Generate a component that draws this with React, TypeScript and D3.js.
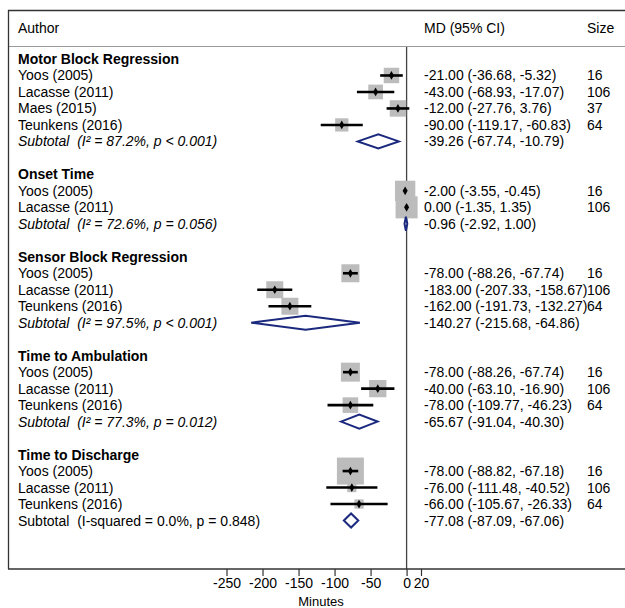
import { useRef, useEffect } from 'react';
import * as d3 from 'd3';

const W = 625;
const H = 608;
const FONT = 'Liberation Sans, Arial, sans-serif';
const BOX_COLOR = '#bcbcbc';
const DIAMOND_COLOR = '#1b2a7e';

const GROUPS = [
  'Motor Block Regression',
  'Onset Time',
  'Sensor Block Regression',
  'Time to Ambulation',
  'Time to Discharge',
];
const STUDY_GROUP = [0, 0, 0, 0, 1, 1, 2, 2, 2, 3, 3, 3, 4, 4, 4];
const STUDIES = [
  'Yoos (2005)', 'Lacasse (2011)', 'Maes (2015)', 'Teunkens (2016)',
  'Yoos (2005)', 'Lacasse (2011)',
  'Yoos (2005)', 'Lacasse (2011)', 'Teunkens (2016)',
  'Yoos (2005)', 'Lacasse (2011)', 'Teunkens (2016)',
  'Yoos (2005)', 'Lacasse (2011)', 'Teunkens (2016)',
];
const MD = [-21, -43, -12, -90, -2, 0, -78, -183, -162, -78, -40, -78, -78, -76, -66];
const LOWER = [-36.68, -68.93, -27.76, -119.17, -3.55, -1.35, -88.26, -207.33, -191.73, -88.26, -63.1, -109.77, -88.82, -111.48, -105.67];
const UPPER = [-5.32, -17.07, 3.76, -60.83, -0.45, 1.35, -67.74, -158.67, -132.27, -67.74, -16.9, -46.23, -67.18, -40.52, -26.33];
const SIZES = [16, 106, 37, 64, 16, 106, 16, 106, 64, 16, 106, 64, 16, 106, 64];
const WEIGHTS = [26.5, 24, 30, 19.5, 46, 54, 36, 32, 32, 40, 33, 27, 81, 9.5, 9.5];

const SUB_LABELS = [
  'Subtotal  (I² = 87.2%, p < 0.001)',
  'Subtotal  (I² = 72.6%, p = 0.056)',
  'Subtotal  (I² = 97.5%, p < 0.001)',
  'Subtotal  (I² = 77.3%, p = 0.012)',
  'Subtotal  (I-squared = 0.0%, p = 0.848)',
];
const SUB_MD = [-39.26, -0.96, -140.27, -65.67, -77.08];
const SUB_LO = [-67.74, -2.92, -215.68, -91.04, -87.09];
const SUB_HI = [-10.79, 1.0, -64.86, -40.3, -67.06];

const TICKS = [-250, -200, -150, -100, -50, 0, 20];

const fmt = (m, l, u) => `${m.toFixed(2)} (${l.toFixed(2)}, ${u.toFixed(2)})`;

function ForestPlot() {
  const svgRef = useRef(null);

  useEffect(() => {
    const svg = d3.select(svgRef.current);
    svg.selectAll('*').remove();

    // build row list: group title, studies, subtotal, blank
    const rows = [];
    GROUPS.forEach((g, gi) => {
      rows.push({ type: 'group', gi });
      STUDY_GROUP.forEach((sg, si) => {
        if (sg === gi) rows.push({ type: 'study', si });
      });
      rows.push({ type: 'sub', gi });
      if (gi < GROUPS.length - 1) rows.push({ type: 'blank' });
    });
    rows.forEach((r, i) => (r.idx = i));

    const x = d3.scaleLinear().domain([-250, 20]).range([226.5, 421]);
    const y = d3.scaleLinear().domain([0, rows.length - 1]).range([59, 520.5]);
    const box = d3.scaleSqrt().domain([0, 100]).range([0, 30]);

    const textX = 18;
    const mdX = 424;
    const sizeX = 587;
    const axisY = 569;

    const g = svg.append('g').attr('font-family', FONT).attr('font-size', 14).attr('fill', '#000');

    // frame
    g.append('line').attr('x1', 8).attr('x2', W).attr('y1', 10.5).attr('y2', 10.5)
      .attr('stroke', '#333').attr('stroke-width', 1.3);
    g.append('line').attr('x1', 8).attr('x2', W).attr('y1', 46.5).attr('y2', 46.5)
      .attr('stroke', '#9a9a9a').attr('stroke-width', 1);
    g.append('line').attr('x1', 8.5).attr('x2', 8.5).attr('y1', 10).attr('y2', axisY)
      .attr('stroke', '#333').attr('stroke-width', 1.3);

    // header
    const hdr = [
      { t: 'Author', x: textX },
      { t: 'MD (95% CI)', x: mdX },
      { t: 'Size', x: sizeX },
    ];
    g.selectAll('.hdr').data(hdr).join('text')
      .attr('x', d => d.x).attr('y', 28).attr('dominant-baseline', 'central')
      .text(d => d.t);

    // zero line
    g.append('line').attr('x1', x(0)).attr('x2', x(0)).attr('y1', 47).attr('y2', axisY)
      .attr('stroke', '#444').attr('stroke-width', 1.3);

    // group titles
    const groupRows = rows.filter(r => r.type === 'group');
    g.selectAll('.gt').data(groupRows).join('text')
      .attr('x', textX).attr('y', d => y(d.idx)).attr('dominant-baseline', 'central')
      .attr('font-weight', 'bold')
      .text(d => GROUPS[d.gi]);

    // studies
    const studyRows = rows.filter(r => r.type === 'study');
    g.selectAll('.st').data(studyRows).join('text')
      .attr('x', textX).attr('y', d => y(d.idx)).attr('dominant-baseline', 'central')
      .text(d => STUDIES[d.si]);
    g.selectAll('.md').data(studyRows).join('text')
      .attr('x', mdX).attr('y', d => y(d.idx)).attr('dominant-baseline', 'central')
      .text(d => fmt(MD[d.si], LOWER[d.si], UPPER[d.si]));
    g.selectAll('.sz').data(studyRows).join('text')
      .attr('x', sizeX).attr('y', d => y(d.idx)).attr('dominant-baseline', 'central')
      .text(d => SIZES[d.si]);

    // weight boxes
    g.selectAll('.box').data(studyRows).join('rect')
      .attr('x', d => x(MD[d.si]) - box(WEIGHTS[d.si]) / 2)
      .attr('y', d => y(d.idx) - box(WEIGHTS[d.si]) / 2)
      .attr('width', d => box(WEIGHTS[d.si]))
      .attr('height', d => box(WEIGHTS[d.si]))
      .attr('fill', BOX_COLOR);

    // CI lines
    g.selectAll('.ci').data(studyRows).join('line')
      .attr('x1', d => x(LOWER[d.si])).attr('x2', d => x(UPPER[d.si]))
      .attr('y1', d => y(d.idx)).attr('y2', d => y(d.idx))
      .attr('stroke', '#000').attr('stroke-width', 2.6);

    // point markers
    const pt = d3.symbol().type(d3.symbolDiamond).size(22);
    g.selectAll('.pt').data(studyRows).join('path')
      .attr('d', pt)
      .attr('transform', d => `translate(${x(MD[d.si])},${y(d.idx)})`)
      .attr('fill', '#000');

    // subtotals
    const subRows = rows.filter(r => r.type === 'sub');
    g.selectAll('.sl').data(subRows).join('text')
      .attr('x', textX).attr('y', d => y(d.idx)).attr('dominant-baseline', 'central')
      .style('white-space', 'pre')
      .attr('font-style', d => (SUB_LABELS[d.gi].includes('I²') ? 'italic' : 'normal'))
      .text(d => SUB_LABELS[d.gi]);
    g.selectAll('.smd').data(subRows).join('text')
      .attr('x', mdX).attr('y', d => y(d.idx)).attr('dominant-baseline', 'central')
      .text(d => fmt(SUB_MD[d.gi], SUB_LO[d.gi], SUB_HI[d.gi]));

    const dh = 7;
    g.selectAll('.dm').data(subRows).join('path')
      .attr('d', d => {
        const cy = y(d.idx);
        return `M${x(SUB_LO[d.gi])},${cy}L${x(SUB_MD[d.gi])},${cy - dh}L${x(SUB_HI[d.gi])},${cy}L${x(SUB_MD[d.gi])},${cy + dh}Z`;
      })
      .attr('fill', '#fff').attr('stroke', DIAMOND_COLOR).attr('stroke-width', 2)
      .attr('stroke-linejoin', 'miter');

    // bottom axis
    g.append('line').attr('x1', 8).attr('x2', W).attr('y1', axisY).attr('y2', axisY)
      .attr('stroke', '#333').attr('stroke-width', 1.3);
    g.append('g')
      .attr('transform', `translate(0,${axisY})`)
      .call(d3.axisBottom(x).tickValues(TICKS).tickSize(7).tickPadding(2).tickFormat(d => String(d)))
      .call(a => a.select('.domain').remove())
      .call(a => a.selectAll('.tick line').attr('stroke', '#333').attr('stroke-width', 1.2))
      .call(a => a.selectAll('.tick text').attr('fill', '#000').attr('font-size', 14).attr('font-family', FONT));

    g.append('text')
      .attr('x', 321).attr('y', 601.5).attr('text-anchor', 'middle').attr('dominant-baseline', 'central')
      .attr('font-size', 13)
      .text('Minutes');
  }, []);

  return (
    <svg
      ref={svgRef}
      width={W}
      height={H}
      viewBox={`0 0 ${W} ${H}`}
      style={{ position: 'absolute', left: 0, top: 0, background: '#fff' }}
    />
  );
}

export default function App() {
  return <ForestPlot />;
}
